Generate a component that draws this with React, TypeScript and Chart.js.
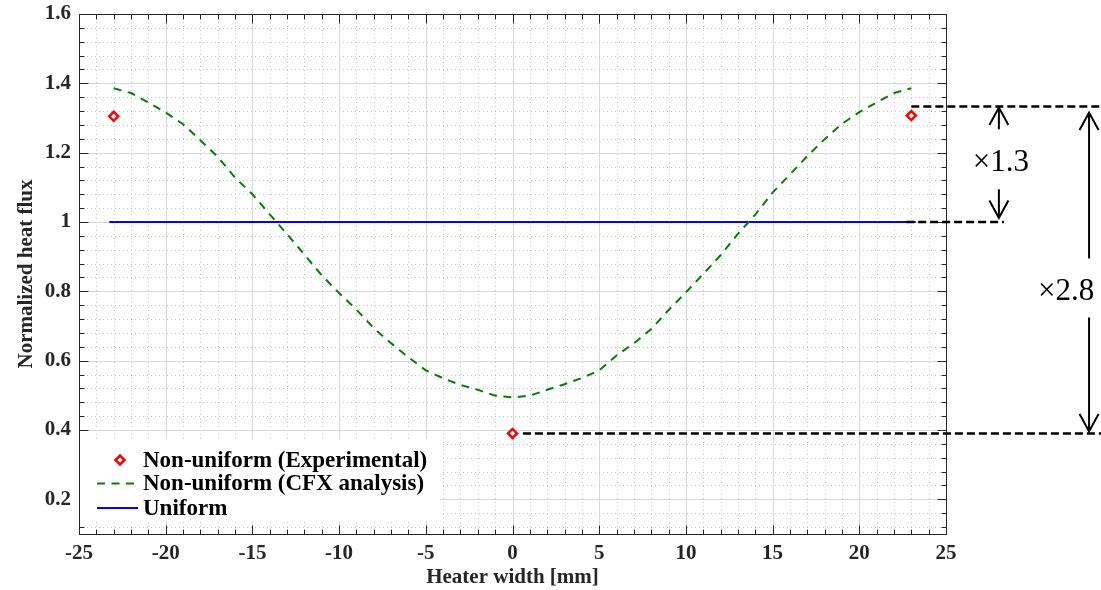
import React, { useEffect, useRef } from 'react';
import { Chart, registerables } from 'chart.js';

Chart.register(...registerables);

// ---- data ----
const xTickValues = [-25, -20, -15, -10, -5, 0, 5, 10, 15, 20, 25];
const yTickValues = [0.2, 0.4, 0.6, 0.8, 1.0, 1.2, 1.4, 1.6];

const seriesLabels = ['Non-uniform (Experimental)', 'Non-uniform (CFX analysis)', 'Uniform'];

const expPosition = [-23, 0, 23];
const expFlux = [1.305, 0.39, 1.307];

const cfxPosition = [
  -23, -22, -21, -20, -19, -18, -17, -16, -15, -14, -13, -12, -11, -10, -9, -8, -7, -6, -5, -4, -3, -2, -1,
  0, 1, 2, 3, 4, 5, 6, 7, 8, 9, 10, 11, 12, 13, 14, 15, 16, 17, 18, 19, 20, 21, 22, 23,
];
const cfxFlux = [
  1.386, 1.372, 1.345, 1.316, 1.282, 1.236, 1.188, 1.128, 1.08, 1.022, 0.965, 0.906, 0.846, 0.795, 0.747, 0.694,
  0.65, 0.61, 0.572, 0.549, 0.53, 0.516, 0.499, 0.494, 0.499, 0.516, 0.532, 0.55, 0.572, 0.615, 0.65, 0.691,
  0.746, 0.797, 0.85, 0.904, 0.966, 1.021, 1.085, 1.137, 1.19, 1.239, 1.283, 1.317, 1.345, 1.372, 1.386,
];

const uniformPosition = [-23.25, 23.25];
const uniformFlux = [1, 1];

const ratioLevels = [1.333, 1.0, 0.39];
const ratioLabels = ['×1.3', '×2.8'];

// ---- styles ----
const SERIF = '"Liberation Serif", "Times New Roman", serif';
const AXIS_COLOR = '#262626';
const RED = '#ff0000';
const GREEN = '#008000';
const BLUE = '#0000ff';
const CFX_DASH = [8, 6.5];

const toXY = (xs: number[], ys: number[]) => xs.map((x, i) => ({ x, y: ys[i] }));

function line(ctx: CanvasRenderingContext2D, x1: number, y1: number, x2: number, y2: number) {
  ctx.beginPath();
  ctx.moveTo(x1, y1);
  ctx.lineTo(x2, y2);
  ctx.stroke();
}

function diamond(ctx: CanvasRenderingContext2D, x: number, y: number, r: number) {
  ctx.save();
  ctx.setLineDash([]);
  ctx.beginPath();
  ctx.moveTo(x - r, y);
  ctx.lineTo(x, y - r);
  ctx.lineTo(x + r, y);
  ctx.lineTo(x, y + r);
  ctx.closePath();
  ctx.fillStyle = '#ffffff';
  ctx.fill();
  ctx.lineWidth = 2.5;
  ctx.strokeStyle = RED;
  ctx.stroke();
  ctx.restore();
}

const gridPlugin = {
  id: 'matlabGrid',
  beforeDatasetsDraw(chart: any) {
    const { ctx, chartArea } = chart;
    const { left, right, top, bottom } = chartArea;
    const sx = chart.scales.x;
    const sy = chart.scales.y;
    ctx.save();
    ctx.lineWidth = 1;
    // minor dotted grid
    ctx.strokeStyle = '#c4c4c4';
    ctx.setLineDash([1, 3]);
    for (let v = -24; v <= 24; v++) {
      if (v % 5 === 0) continue;
      const x = Math.round(sx.getPixelForValue(v)) + 0.5;
      line(ctx, x, top, x, bottom);
    }
    for (let i = 3; i < 40; i++) {
      if (i % 5 === 0) continue;
      const y = Math.round(sy.getPixelForValue(i * 0.04)) + 0.5;
      line(ctx, left, y, right, y);
    }
    // major solid grid
    ctx.setLineDash([]);
    ctx.strokeStyle = '#d8d8d8';
    xTickValues.forEach((v) => {
      const x = Math.round(sx.getPixelForValue(v)) + 0.5;
      if (x > left + 1 && x < right - 1) line(ctx, x, top, x, bottom);
    });
    yTickValues.forEach((v) => {
      const y = Math.round(sy.getPixelForValue(v)) + 0.5;
      if (y > top + 1 && y < bottom - 1) line(ctx, left, y, right, y);
    });
    ctx.restore();
  },
  afterDatasetsDraw(chart: any) {
    const { ctx, chartArea } = chart;
    const { left, right, top, bottom } = chartArea;
    const sx = chart.scales.x;
    const sy = chart.scales.y;
    ctx.save();
    ctx.setLineDash([]);
    ctx.strokeStyle = AXIS_COLOR;
    ctx.lineWidth = 1;
    const L = Math.round(left) + 0.5;
    const R = Math.round(right) + 0.5;
    const T = Math.round(top) + 0.5;
    const B = Math.round(bottom) + 0.5;
    // x ticks (inward, top and bottom)
    for (let v = -25; v <= 25; v++) {
      const len = v % 5 === 0 ? 9 : 5;
      const x = Math.round(sx.getPixelForValue(v)) + 0.5;
      line(ctx, x, B, x, B - len);
      line(ctx, x, T, x, T + len);
    }
    // y ticks (inward, left and right)
    for (let i = 3; i <= 40; i++) {
      const len = i % 5 === 0 ? 9 : 5;
      const y = Math.round(sy.getPixelForValue(i * 0.04)) + 0.5;
      line(ctx, L, y, L + len, y);
      line(ctx, R, y, R - len, y);
    }
    ctx.strokeRect(L, T, R - L, B - T);
    ctx.restore();
  },
  afterDraw(chart: any) {
    const { ctx, chartArea, width } = chart;
    const sx = chart.scales.x;
    const sy = chart.scales.y;
    ctx.save();

    // ---- legend ----
    const lx = Math.round(chartArea.left) + 1;
    ctx.fillStyle = '#ffffff';
    ctx.fillRect(lx, 439, 440 - lx, 82);
    const rows = [460, 483.5, 508];
    diamond(ctx, 120, rows[0], 4.5);
    ctx.lineWidth = 2;
    ctx.strokeStyle = GREEN;
    ctx.setLineDash(CFX_DASH);
    line(ctx, 97, rows[1], 136, rows[1]);
    ctx.setLineDash([]);
    ctx.strokeStyle = BLUE;
    line(ctx, 97, rows[2], 138, rows[2]);
    ctx.fillStyle = '#000000';
    ctx.font = `bold 23px ${SERIF}`;
    ctx.textAlign = 'left';
    ctx.textBaseline = 'middle';
    seriesLabels.forEach((t, i) => ctx.fillText(t, 143, rows[i] + 1));

    // ---- ratio annotations ----
    const yTop = sy.getPixelForValue(ratioLevels[0]);
    const yMid = sy.getPixelForValue(ratioLevels[1]);
    const yBot = sy.getPixelForValue(ratioLevels[2]);
    ctx.strokeStyle = '#000000';
    ctx.lineWidth = 2.5;
    ctx.setLineDash([8, 4]);
    line(ctx, sx.getPixelForValue(23), yTop, width, yTop);
    line(ctx, sx.getPixelForValue(22.7), yMid, sx.getPixelForValue(28.35), yMid);
    line(ctx, sx.getPixelForValue(0.6), yBot, width, yBot);

    ctx.setLineDash([]);
    ctx.lineWidth = 2;
    const arrow = (x: number, yFrom: number, yTip: number) => {
      line(ctx, x, yFrom, x, yTip);
      const d = yTip < yFrom ? 1 : -1;
      ctx.beginPath();
      ctx.moveTo(x - 9.5, yTip + d * 17.5);
      ctx.lineTo(x, yTip);
      ctx.lineTo(x + 9.5, yTip + d * 17.5);
      ctx.stroke();
    };
    const a1 = sx.getPixelForValue(28.05);
    const a2 = sx.getPixelForValue(33.25);
    const t1 = (yTop + yMid) / 2 - 1;
    arrow(a1, t1 - 34, yTop + 1);
    arrow(a1, t1 + 26, yMid - 4);
    const t2 = yBot - 142;
    arrow(a2, t2 - 33, yTop + 6);
    arrow(a2, t2 + 26, yBot - 2);

    ctx.fillStyle = '#000000';
    ctx.font = `31px ${SERIF}`;
    ctx.textAlign = 'center';
    ctx.textBaseline = 'middle';
    ctx.fillText(ratioLabels[0], a1 + 2, t1);
    ctx.fillText(ratioLabels[1], a2 - 23, t2);
    ctx.restore();
  },
};

export default function App() {
  const canvasRef = useRef<HTMLCanvasElement | null>(null);

  useEffect(() => {
    const canvas = canvasRef.current;
    if (!canvas) return;
    const tickFont = { family: SERIF, weight: 'bold' as const, size: 21 };
    const chart = new Chart(canvas, {
      type: 'scatter',
      data: {
        datasets: [
          {
            label: seriesLabels[0],
            data: toXY(expPosition, expFlux),
            showLine: false,
            pointStyle: 'rectRot',
            pointRadius: 4.5,
            pointBorderWidth: 2.5,
            pointBorderColor: RED,
            pointBackgroundColor: '#ffffff',
            order: 0,
          },
          {
            label: seriesLabels[1],
            data: toXY(cfxPosition, cfxFlux),
            showLine: true,
            borderColor: GREEN,
            borderWidth: 2,
            borderDash: CFX_DASH,
            pointRadius: 0,
            tension: 0,
            order: 1,
          },
          {
            label: seriesLabels[2],
            data: toXY(uniformPosition, uniformFlux),
            showLine: true,
            borderColor: BLUE,
            borderWidth: 2,
            pointRadius: 0,
            order: 2,
          },
        ],
      },
      options: {
        responsive: false,
        animation: false,
        devicePixelRatio: 1,
        layout: { padding: { left: 0, top: 14, right: 155, bottom: 0 } },
        plugins: {
          legend: { display: false },
          tooltip: { enabled: false },
          title: { display: false },
        },
        scales: {
          x: {
            type: 'linear',
            min: -25,
            max: 25,
            grid: { display: false, drawTicks: false },
            border: { display: false },
            afterBuildTicks: (s: any) => {
              s.ticks = xTickValues.map((v) => ({ value: v }));
            },
            afterFit: (s: any) => {
              s.height = 56;
              s.paddingLeft = 0;
              s.paddingRight = 0;
            },
            ticks: {
              autoSkip: false,
              maxRotation: 0,
              padding: 7,
              color: AXIS_COLOR,
              font: tickFont,
              callback: (v: any) => String(v),
            },
            title: {
              display: true,
              text: 'Heater width [mm]',
              color: AXIS_COLOR,
              font: { family: SERIF, weight: 'bold', size: 21 },
              padding: { top: 0, bottom: 0 },
            },
          },
          y: {
            type: 'linear',
            min: 0.1,
            max: 1.6,
            grid: { display: false, drawTicks: false },
            border: { display: false },
            afterBuildTicks: (s: any) => {
              s.ticks = yTickValues.map((v) => ({ value: v }));
            },
            afterFit: (s: any) => {
              s.width = 79;
              s.paddingTop = 0;
              s.paddingBottom = 0;
            },
            ticks: {
              autoSkip: false,
              padding: 8,
              color: AXIS_COLOR,
              font: tickFont,
              callback: (v: any) => String(Math.round(Number(v) * 10) / 10),
            },
            title: {
              display: true,
              text: 'Normalized heat flux',
              color: AXIS_COLOR,
              font: { family: SERIF, weight: 'bold', size: 21 },
              padding: { top: 14, bottom: 0 },
            },
          },
        },
      } as any,
      plugins: [gridPlugin],
    });
    return () => chart.destroy();
  }, []);

  return (
    <div style={{ position: 'fixed', left: 0, top: 0, width: 1101, height: 590, background: '#ffffff' }}>
      <canvas ref={canvasRef} width={1101} height={590} style={{ display: 'block' }} />
    </div>
  );
}
